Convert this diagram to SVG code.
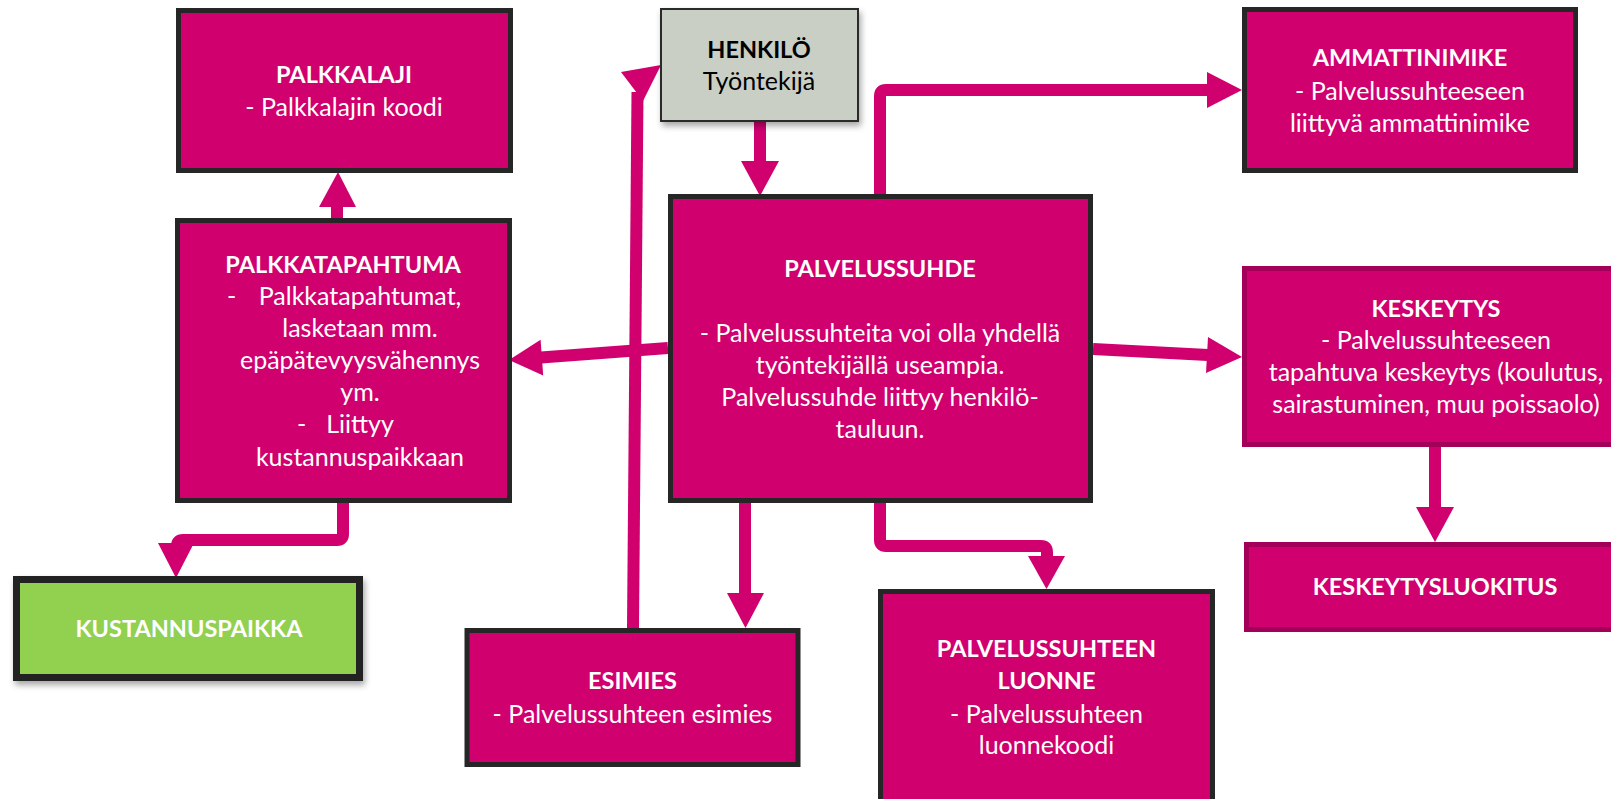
<svg xmlns="http://www.w3.org/2000/svg" width="1611" height="799" viewBox="0 0 1611 799">
<defs>
<filter id="sh" x="-10%" y="-10%" width="130%" height="140%">
<feDropShadow dx="2" dy="4" stdDeviation="3" flood-color="#000" flood-opacity="0.35"/>
</filter>
</defs>
<style>
.box{fill:#d0006f;stroke:#262626;stroke-width:5}
.boxm{fill:#d0006f;stroke:#a3005a;stroke-width:5}
.grey{fill:#c9cfc4;stroke:#2b2b2b;stroke-width:2}
.green{fill:#92d050;stroke:#222;stroke-width:7}
text{font-family:Lato,"Liberation Sans",sans-serif;font-size:25px;fill:#fff;text-anchor:middle}
.b{font-weight:bold;font-size:23.5px}
.k{fill:#000}
.ln{fill:none;stroke:#d0006f;stroke-width:12;stroke-linejoin:round}
.hd{fill:#d0006f}
</style>
<rect width="1611" height="799" fill="#fff"/>
<g id="connectors">
<path class="ln" d="M760,122 V162"/>
<polygon class="hd" points="741,161 779,161 760,196"/>
<path class="ln" d="M633,628 L637.5,92"/>
<polygon class="hd" points="621,72 661,65 643,101"/>
<path class="ln" d="M880,194 V96 Q880,90 886,90 H1208"/>
<polygon class="hd" points="1207,72 1207,108 1242,90"/>
<path class="ln" d="M668,348 L541,357.6"/>
<polygon class="hd" points="540.6,339.7 543.2,375.5 509,360"/>
<path class="ln" d="M1093,349 L1208,355"/>
<polygon class="hd" points="1208,337 1206,373 1242,357"/>
<path class="ln" d="M1435,447 V508"/>
<polygon class="hd" points="1416,507 1454,507 1435,542"/>
<path class="ln" d="M745,503 V594"/>
<polygon class="hd" points="727,593 764,593 745.5,628"/>
<path class="ln" d="M880,503 V540 Q880,546 886,546 H1041 Q1047,546 1047,552 V557"/>
<polygon class="hd" points="1028,556 1065,556 1046.5,589"/>
<path class="ln" d="M337,219 V205"/>
<polygon class="hd" points="319,207 356,207 338,172"/>
<path class="ln" d="M343,503 V534 Q343,540 337,540 H183 Q177,540 177,546"/>
<polygon class="hd" points="158,543 194,543 176,578"/>
</g>
<g id="palkkalaji">
<rect class="box" x="178.5" y="10.5" width="332" height="160"/>
<text class="b" x="344" y="83">PALKKALAJI</text>
<text x="344" y="116">- Palkkalajin koodi</text>
</g>
<g id="henkilo">
<rect class="grey" x="661" y="9" width="197" height="112" filter="url(#sh)"/>
<text class="b k" x="759" y="58">HENKILÖ</text>
<text class="k" x="759" y="90">Työntekijä</text>
</g>
<g id="ammattinimike">
<rect class="box" x="1244.5" y="9.5" width="331" height="161"/>
<text class="b" x="1410" y="66">AMMATTINIMIKE</text>
<text x="1410" y="100">- Palvelussuhteeseen</text>
<text x="1410" y="132">liittyvä ammattinimike</text>
</g>
<g id="palkkatapahtuma">
<rect class="box" x="177.5" y="220.5" width="332" height="280"/>
<text class="b" x="343" y="273">PALKKATAPAHTUMA</text>
<text x="227" y="305" style="text-anchor:start">-</text>
<text x="360" y="305">Palkkatapahtumat,</text>
<text x="360" y="337">lasketaan mm.</text>
<text x="360" y="369">epäpätevyysvähennys</text>
<text x="360" y="401">ym.</text>
<text x="297" y="433" style="text-anchor:start">-</text>
<text x="360" y="433">Liittyy</text>
<text x="360" y="466">kustannuspaikkaan</text>
</g>
<g id="palvelussuhde">
<rect class="box" x="670.5" y="196.5" width="420" height="304"/>
<text class="b" x="880" y="277">PALVELUSSUHDE</text>
<text x="880" y="342">- Palvelussuhteita voi olla yhdellä</text>
<text x="880" y="374">työntekijällä useampia.</text>
<text x="880" y="406">Palvelussuhde liittyy henkilö-</text>
<text x="880" y="438">tauluun.</text>
</g>
<g id="keskeytys">
<rect class="boxm" x="1244.5" y="268.5" width="385" height="176"/>
<text class="b" x="1436" y="317">KESKEYTYS</text>
<text x="1436" y="349">- Palvelussuhteeseen</text>
<text x="1436" y="381">tapahtuva keskeytys (koulutus,</text>
<text x="1436" y="413">sairastuminen, muu poissaolo)</text>
</g>
<g id="keskeytysluokitus">
<rect class="boxm" x="1246.5" y="544.5" width="383" height="85"/>
<text class="b" x="1435" y="595">KESKEYTYSLUOKITUS</text>
</g>
<g id="kustannuspaikka">
<rect class="green" x="16.5" y="579.5" width="343" height="98" filter="url(#sh)"/>
<text class="b" x="189" y="637">KUSTANNUSPAIKKA</text>
</g>
<g id="esimies">
<rect class="box" x="467" y="630.5" width="331" height="134"/>
<text class="b" x="632.5" y="689">ESIMIES</text>
<text x="632.5" y="723">- Palvelussuhteen esimies</text>
</g>
<g id="luonne">
<rect class="box" x="880.5" y="591.5" width="332" height="230"/>
<text class="b" x="1046.5" y="657">PALVELUSSUHTEEN</text>
<text class="b" x="1046.5" y="689">LUONNE</text>
<text x="1046.5" y="723">- Palvelussuhteen</text>
<text x="1046.5" y="754">luonnekoodi</text>
</g>
</svg>
